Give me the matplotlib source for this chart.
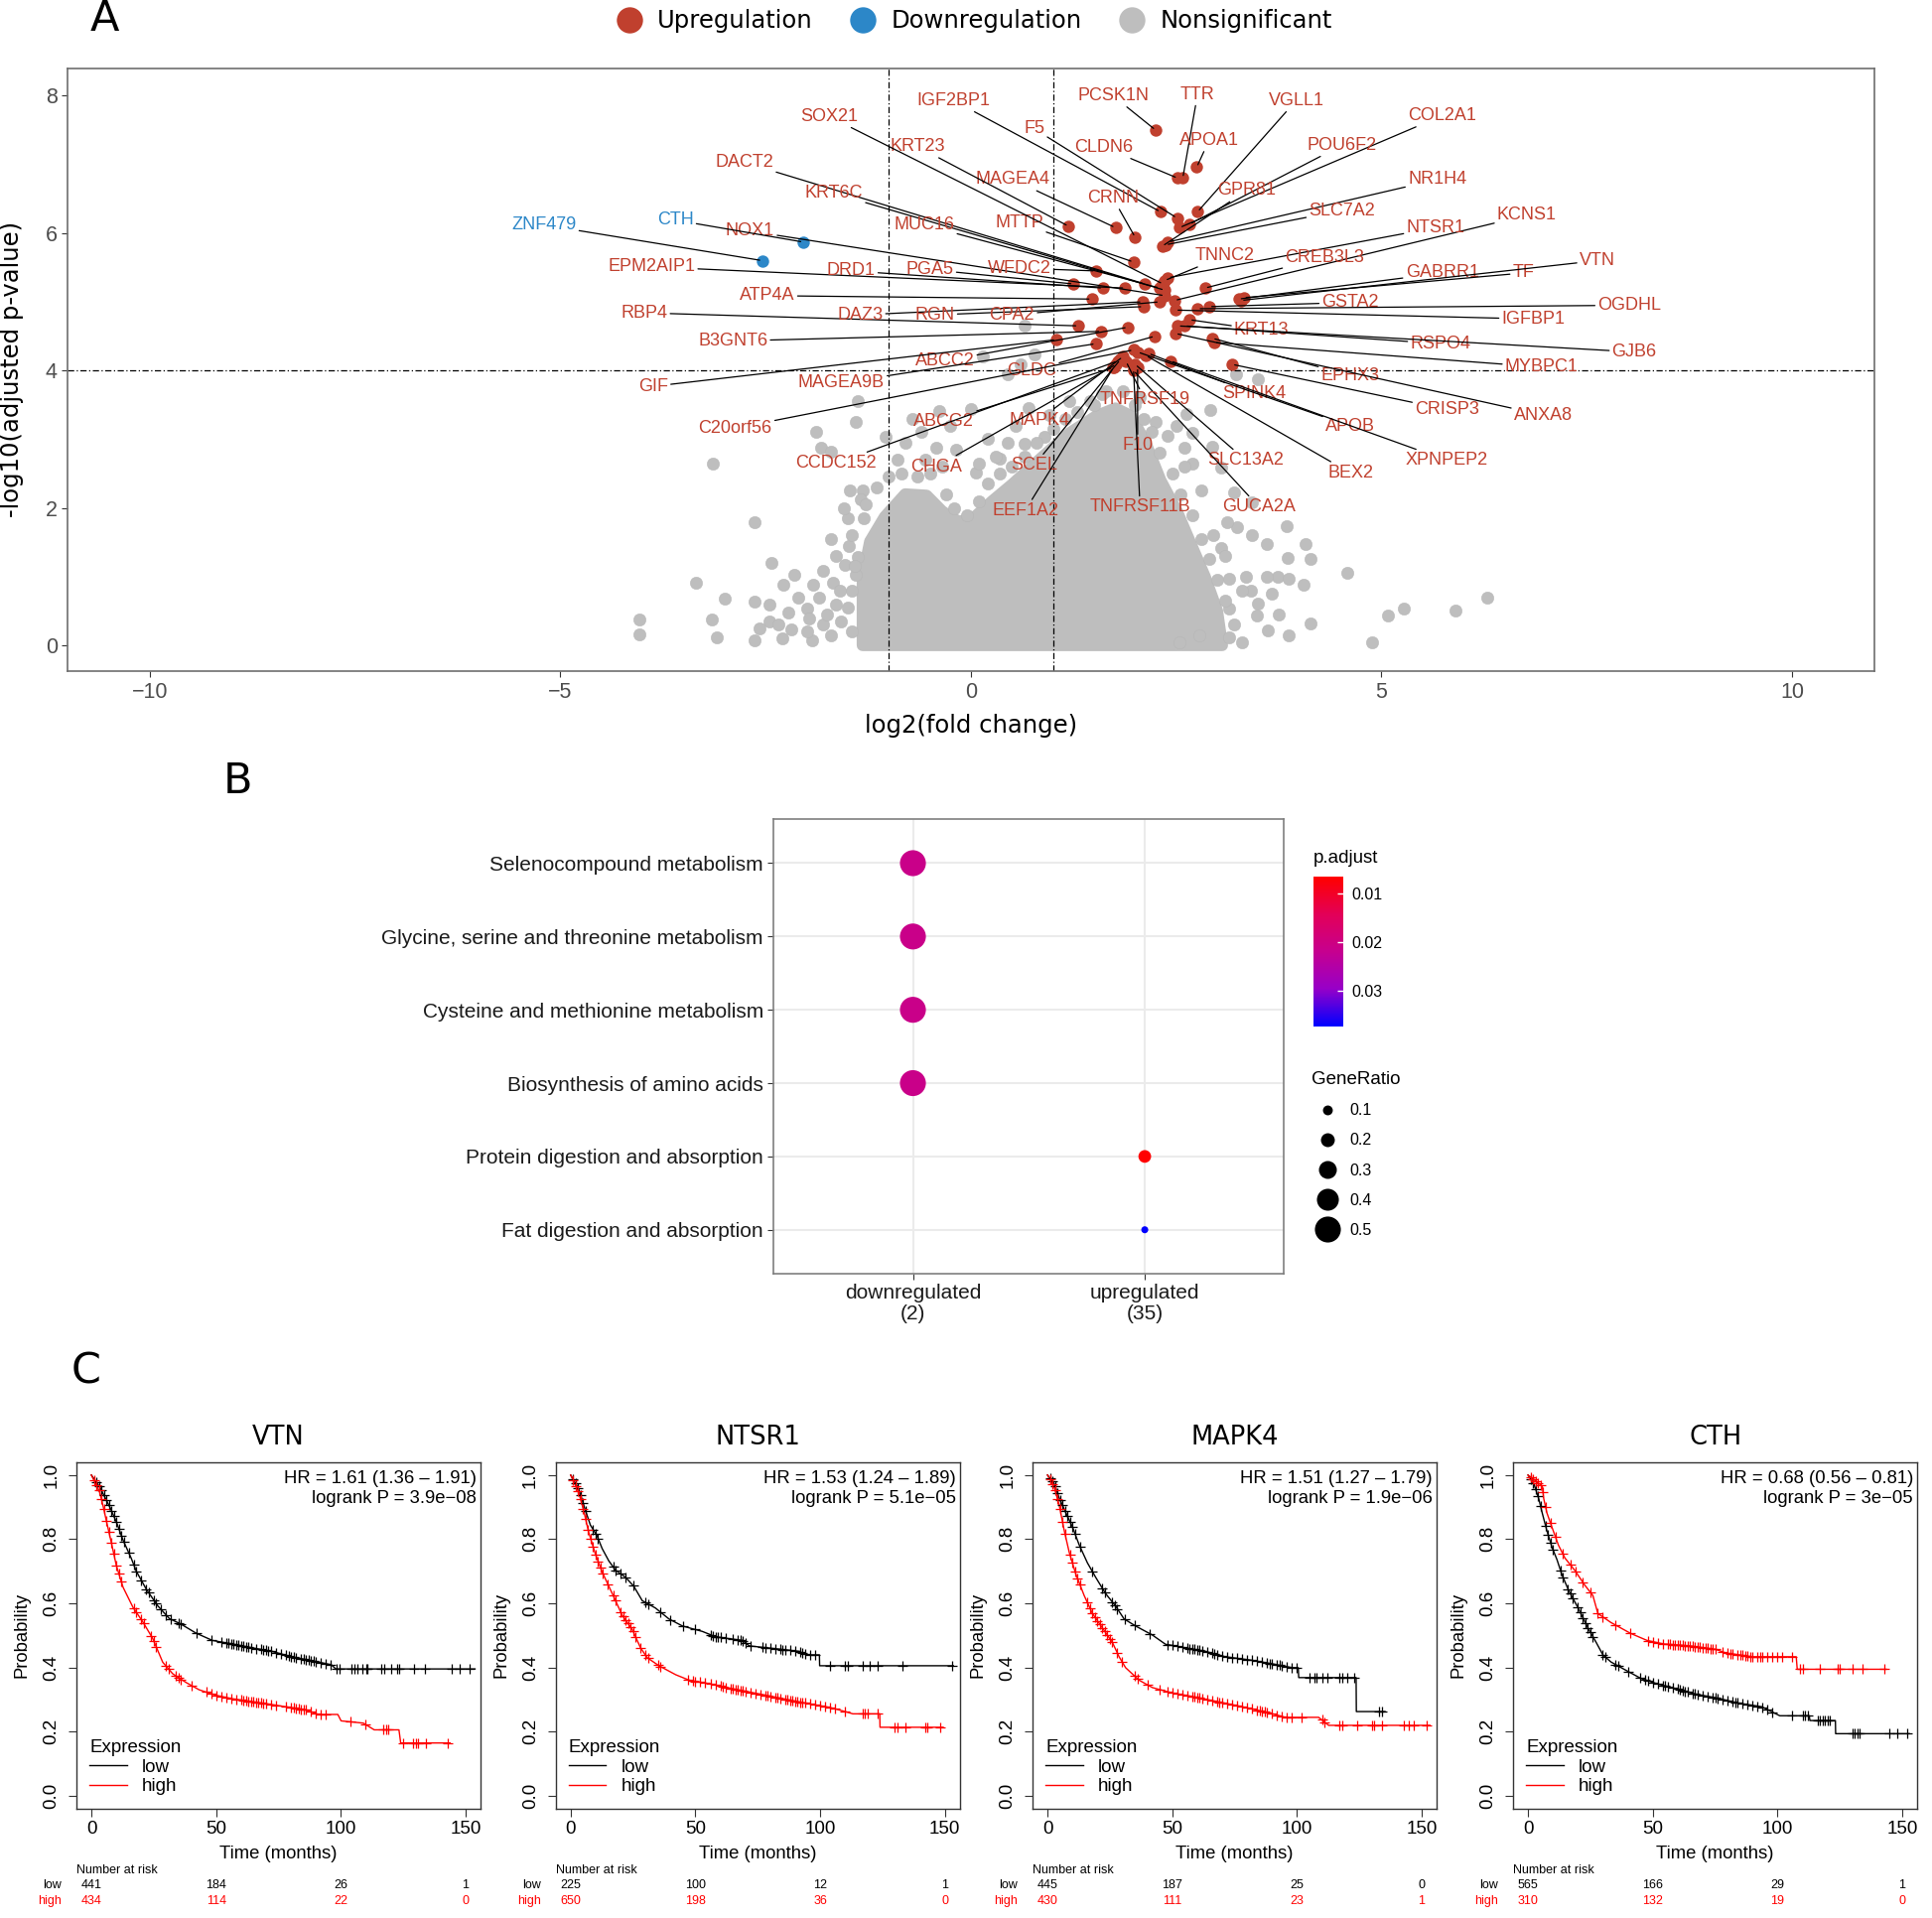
import numpy as np
import matplotlib
matplotlib.use("Agg")
import matplotlib.pyplot as plt
import matplotlib.transforms as mtransforms
from matplotlib.lines import Line2D
from matplotlib.patches import Polygon
from matplotlib.colors import LinearSegmentedColormap, Normalize
from matplotlib.cm import ScalarMappable

plt.rcParams['font.family'] = ['Liberation Sans', 'DejaVu Sans']
DEJAVU = ['DejaVu Sans']

RED = "#C0402E"
BLUE = "#2C87C8"
GREY = "#BEBEBE"

# ---------------- panel A: volcano ----------------
up_genes = ["PCSK1N", "TTR", "CLDN6", "APOA1", "VGLL1", "IGF2BP1", "F5", "COL2A1", "POU6F2",
            "GPR81", "CRNN", "NR1H4", "SLC7A2", "MAGEA4", "KRT23", "MTTP", "SOX21", "DACT2",
            "KRT6C", "MUC16", "NOX1", "KCNS1", "NTSR1", "TNNC2", "CREB3L3", "GABRR1", "TF",
            "VTN", "GSTA2", "OGDHL", "IGFBP1", "EPM2AIP1", "DRD1", "PGA5", "WFDC2", "ATP4A",
            "RBP4", "DAZ3", "RGN", "CPA2", "B3GNT6", "KRT13", "RSPO4", "GJB6", "MYBPC1",
            "EPHX3", "ANXA8", "ABCC2", "GIF", "MAGEA9B", "GLDC", "CRISP3", "SPINK4", "APOB",
            "XPNPEP2", "BEX2", "SLC13A2", "GUCA2A", "TNFRSF19", "F10", "TNFRSF11B", "SCEL",
            "EEF1A2", "MAPK4", "CHGA", "ABCG2", "CCDC152", "C20orf56"]
up_x = [2.25, 2.58, 2.52, 2.75, 2.76, 2.31, 2.51, 2.54, 2.66,
        2.33, 2.00, 2.40, 2.37, 1.76, 1.19, 1.98, 2.34, 2.12,
        2.36, 2.30, 2.36, 2.48, 2.40, 2.36, 2.85, 3.26, 3.32,
        3.29, 2.90, 2.76, 2.49, 1.88, 1.61, 1.25, 1.52, 1.47,
        1.31, 2.09, 2.10, 2.30, 1.59, 2.66, 2.60, 2.52, 2.96,
        2.94, 2.49, 1.91, 1.04, 1.52, 2.24, 3.18, 2.16, 2.03,
        2.43, 2.13, 2.00, 1.98, 1.89, 2.03, 1.98, 1.82,
        1.74, 1.85, 1.77, 1.73, 1.79, 1.98]
up_y = [7.50, 6.80, 6.80, 6.96, 6.31, 6.31, 6.22, 6.08, 6.13,
        5.81, 5.94, 5.87, 5.83, 6.08, 6.10, 5.58, 5.26, 5.26,
        5.17, 5.20, 5.09, 5.02, 5.35, 5.31, 5.20, 5.04, 5.06,
        5.02, 4.93, 4.90, 4.88, 5.20, 5.20, 5.26, 5.45, 5.04,
        4.65, 5.00, 4.93, 5.00, 4.57, 4.74, 4.65, 4.65, 4.41,
        4.47, 4.54, 4.63, 4.45, 4.39, 4.50, 4.09, 4.25, 4.27,
        4.14, 4.22, 4.09, 4.00, 4.13, 4.05, 4.02, 4.16,
        4.05, 4.20, 4.09, 4.04, 4.14, 4.30]
up_label_x = [1.73, 2.76, 1.62, 2.90, 3.96, -0.21, 0.77, 5.74, 4.52,
              3.36, 1.73, 5.68, 4.52, 0.51, -0.65, 0.59, -1.73, -2.76,
              -1.67, -0.57, -2.69, 6.77, 5.66, 3.09, 4.31, 5.74, 6.73,
              7.63, 4.62, 8.02, 6.85, -3.89, -1.46, -0.50, 0.59, -2.48,
              -3.98, -1.35, -0.44, 0.50, -2.90, 3.54, 5.72, 8.08, 6.95,
              4.62, 6.97, -0.32, -3.87, -1.58, 0.74, 5.80, 3.45, 4.62,
              5.80, 4.62, 3.35, 3.51, 2.12, 2.03, 2.06, 0.77,
              0.66, 0.83, -0.42, -0.33, -1.64, -2.87]
up_label_y = [8.00, 8.02, 7.25, 7.35, 7.93, 7.93, 7.52, 7.71, 7.28,
              6.62, 6.51, 6.78, 6.33, 6.78, 7.26, 6.15, 7.70, 7.03,
              6.58, 6.12, 6.03, 6.26, 6.08, 5.67, 5.65, 5.42, 5.42,
              5.60, 4.99, 4.95, 4.75, 5.51, 5.45, 5.47, 5.49, 5.09,
              4.84, 4.81, 4.81, 4.81, 4.43, 4.59, 4.39, 4.27, 4.05,
              3.93, 3.35, 4.14, 3.77, 3.82, 4.00, 3.43, 3.66, 3.19,
              2.69, 2.51, 2.69, 2.01, 3.57, 2.91, 2.01, 2.62,
              1.96, 3.28, 2.60, 3.26, 2.65, 3.16]

down_genes = ["ZNF479", "CTH"]
down_x = [-2.54, -2.04]
down_y = [5.60, 5.87]
down_label_x = [-5.20, -3.60]
down_label_y = [6.12, 6.19]

grey_x = [-1.38, -1.40, -1.89, -1.82, -1.71, -3.14, -1.04, -0.71, -0.39, 0.00,
          -0.42, 0.06, 0.35, 0.65, 0.90, -0.18, -1.47, -1.32, -2.64, -1.34,
          -2.43, -3.35, -3.00, -2.63, -4.04, -3.15, -4.04, -3.09, -2.63, -2.15,
          -2.28, -1.80, -1.68, -1.92, -1.53, -2.10, -2.46, -2.22, -2.00, -2.46,
          -2.57, -2.19, -1.97, -1.80, -1.94, -1.64, -1.58, -1.49, -1.31, -1.50,
          -1.38, -1.40,
          3.50, 3.23, 2.91, 2.63, 2.70, 2.60, 2.94, 2.70, 3.05, 3.21,
          2.81, 3.42, 3.84, 4.08, 4.13, 4.58, 6.29, 5.27, 5.08, 5.90,
          4.89, 3.86, 3.74, 3.87, 4.05, 3.66, 3.41, 4.14, 3.87, 3.62,
          3.15, 3.48, 3.15, 3.35, 3.15, 2.54, 2.78, 3.60, 3.42, 3.24,
          3.05, 3.12,
          0.65, 0.78, 0.60, 0.14, 0.45, 1.65, 2.05, 1.45, 2.25,
          # points ragging the edge of the dense cloud
          -1.45, -1.50, -1.45, -1.42, -1.45, -1.28, -1.15, -1.00, -0.85, -0.65,
          -0.50, -0.30, -0.20, -0.05, 0.10, 0.20, 0.35, 0.50, 0.65, 0.80,
          1.00, 1.15, 1.30, 1.50, 1.60, 1.85, 2.00, 2.10, 2.20, 2.30,
          2.45, 2.55, 2.70, 2.80, 2.90, 3.00, 3.10, 3.20, 3.30, 2.95,
          3.10, 3.30, 3.50, 3.60, 3.75, -1.70, -1.75, -1.85, -1.60, -1.65,
          -1.70, -1.55, -2.30, -2.00, -2.35, -0.55, -0.35, 0.30, -0.90, 1.20,
          0.95, 2.40, 2.60, 2.50, -0.60, -0.25, 0.20, 0.55, 0.70, -0.80,
          0.10, 0.45]
grey_y = [3.55, 3.25, 3.10, 2.87, 2.82, 2.64, 3.03, 3.30, 3.41, 3.44,
          2.87, 2.51, 2.71, 2.94, 3.03, 2.85, 2.26, 2.26, 1.79, 2.12,
          1.20, 0.91, 0.68, 0.63, 0.38, 0.38, 0.16, 0.11, 0.07, 1.02,
          0.88, 1.08, 0.91, 0.88, 1.17, 0.70, 0.59, 0.47, 0.54, 0.34,
          0.25, 0.23, 0.39, 0.30, 0.07, 0.59, 0.34, 1.45, 1.85, 1.85,
          1.29, 1.02,
          3.87, 3.95, 3.43, 3.37, 3.09, 2.87, 2.89, 2.65, 2.58, 2.22,
          2.26, 2.08, 1.74, 1.47, 1.26, 1.06, 0.70, 0.54, 0.43, 0.50,
          0.04, 1.27, 0.99, 0.97, 0.88, 0.75, 0.79, 0.32, 0.14, 0.22,
          0.11, 0.43, 0.54, 0.99, 0.97, 0.05, 0.14, 1.47, 1.61, 1.72,
          1.42, 1.79,
          4.65, 4.23, 4.09, 4.20, 3.95, 3.70, 3.62, 3.55, 3.25,
          0.20, 0.55, 0.80, 1.15, 1.60, 2.05, 2.30, 2.45, 2.50, 2.45,
          2.50, 2.20, 2.00, 1.90, 2.10, 2.35, 2.50, 2.60, 2.75, 2.95,
          3.15, 3.30, 3.40, 3.50, 3.65, 3.70, 3.50, 3.30, 3.10, 2.80,
          2.50, 2.20, 1.90, 1.55, 1.25, 0.95, 0.65, 0.30, 0.05, 1.60,
          1.30, 0.80, 0.60, 1.00, 0.45, 0.15, 0.45, 0.70, 0.80, 1.30,
          1.55, 2.00, 0.10, 0.20, 0.30, 2.70, 2.60, 2.75, 2.70, 3.55,
          3.35, 3.05, 2.60, 3.20, 3.10, 3.20, 3.00, 3.20, 3.45, 2.95,
          2.65, 2.95]

# outline of the dense, fully overlapping part of the grey cloud
cloud_x = [-1.32, -1.32, -1.23, -1.05, -0.80, -0.54, -0.35, -0.15, 0.03, 0.26, 0.51,
           0.86, 1.20, 1.53, 1.76, 1.95, 2.13, 2.31, 2.51, 2.67, 2.85, 3.00, 3.06]
cloud_y = [0.00, 0.97, 1.51, 1.87, 2.20, 2.18, 1.95, 1.80, 1.85, 2.10, 2.35,
           2.73, 3.09, 3.34, 3.45, 3.34, 2.94, 2.40, 1.95, 1.50, 1.00, 0.50, 0.00]

# ---------------- panel B: enrichment ----------------
terms = ["Selenocompound metabolism", "Glycine, serine and threonine metabolism",
         "Cysteine and methionine metabolism", "Biosynthesis of amino acids",
         "Protein digestion and absorption", "Fat digestion and absorption"]
term_group = ["downregulated", "downregulated", "downregulated", "downregulated",
              "upregulated", "upregulated"]
groups = ["downregulated\n(2)", "upregulated\n(35)"]
gene_ratio = [0.5, 0.5, 0.5, 0.5, 0.171, 0.029]
p_adjust = [0.0212, 0.0212, 0.0212, 0.0212, 0.0067, 0.0373]
ratio_breaks = [0.1, 0.2, 0.3, 0.4, 0.5]
padj_breaks = [0.01, 0.02, 0.03]

# ---------------- panel C: Kaplan-Meier ----------------
vtn_low_t = [0, 3.4, 7.4, 10, 12.7, 16, 18, 22, 26.6, 31.3, 35.9, 41.9, 48.5, 56.4, 64.4, 72.3,
             80.3, 89.5, 96.2, 98, 153.8]
vtn_low_s = [1, 0.962, 0.90, 0.854, 0.797, 0.74, 0.70, 0.644, 0.592, 0.552, 0.535, 0.507, 0.484,
             0.473, 0.461, 0.45, 0.433, 0.419, 0.408, 0.395, 0.395]
vtn_low_c = [2, 3, 4, 5, 6, 7, 8, 9, 10, 11, 12, 13, 15, 17, 18, 20, 22, 23, 25, 26, 28, 30, 32,
             35, 36, 42, 48, 52, 54, 55, 56, 57, 58, 59, 60, 61, 62, 63, 64, 66, 68, 69, 70, 71,
             72, 74, 76, 78, 79, 80, 81, 82, 84, 85, 86, 87, 88, 89, 90, 92, 94, 96, 98.1, 99.5,
             104.1, 105.4, 106.8, 108.8, 110.1, 110.7, 116, 117.4, 120, 122.7, 123.3, 129.3,
             133.9, 144.5, 147.8, 151.8]
vtn_high_t = [0, 3.4, 4.8, 6.1, 8.1, 10, 12.7, 16.7, 20.7, 24.6, 28.6, 32.6, 37.9, 43.2, 49.8,
              56.4, 67, 76.3, 85.6, 90.9, 98.8, 100.1, 109, 113.4, 123.3, 124, 143.8]
vtn_high_s = [1, 0.945, 0.90, 0.854, 0.786, 0.718, 0.65, 0.587, 0.541, 0.49, 0.416, 0.38, 0.353,
              0.33, 0.313, 0.302, 0.29, 0.279, 0.268, 0.253, 0.253, 0.233, 0.226, 0.205, 0.205,
              0.164, 0.164]
vtn_high_c = [1, 2, 3, 4, 5, 6, 7, 8, 9, 10, 11, 12, 17, 18, 20, 21, 24, 25, 26, 30, 31, 34, 35,
              36, 40, 46, 48, 50, 52, 54, 56, 58, 60, 61, 62, 63, 64, 65, 66, 67, 68, 69, 70, 72,
              74, 78, 80, 81, 82, 83, 84, 85, 86, 88, 90, 92, 94, 104, 110, 117, 118, 119, 125,
              129, 130, 131, 134, 143]

ntsr1_low_t = [0, 3.2, 5.9, 7.9, 10.6, 12.6, 15.3, 18, 22, 25.3, 28.7, 34, 39.4, 44.8, 52.8,
               58.2, 68.9, 71.6, 91.7, 94.4, 99.7, 99.8, 153.4]
ntsr1_low_s = [1, 0.957, 0.89, 0.844, 0.81, 0.771, 0.732, 0.703, 0.681, 0.653, 0.608, 0.585,
               0.551, 0.529, 0.512, 0.495, 0.484, 0.467, 0.45, 0.439, 0.439, 0.405, 0.405]
ntsr1_low_c = [1, 2, 3, 4, 5, 6, 9, 10, 11, 17, 18, 20, 22, 25, 30, 31, 36, 40, 45, 50, 56, 57,
               58, 59, 60, 62, 65, 67, 68, 69, 70, 72, 77, 78, 80, 82, 84, 85, 86, 88, 90, 92, 93,
               94, 96, 98, 104, 110, 111, 117, 120, 123, 133, 153]
ntsr1_high_t = [0, 3.2, 5.2, 7.2, 9.9, 12.6, 15.3, 18, 20.6, 24.7, 28, 30.7, 35.4, 42.1, 47.5,
                55.5, 66.2, 76.9, 87.7, 95.7, 103.8, 109.1, 113.1, 123.9, 124, 149.3]
ntsr1_high_s = [1, 0.946, 0.89, 0.822, 0.754, 0.698, 0.653, 0.608, 0.563, 0.518, 0.461, 0.43,
                0.405, 0.377, 0.36, 0.349, 0.331, 0.315, 0.298, 0.286, 0.275, 0.264, 0.255,
                0.255, 0.213, 0.213]
ntsr1_high_c = [1, 2, 3, 4, 5, 6, 7, 8, 9, 10, 11, 12, 13, 15, 17, 18, 20, 21, 22, 23, 24, 25,
                26, 28, 30, 31, 35, 36, 47, 49, 50, 52, 54, 56, 58, 60, 61, 62, 64, 65, 66, 67,
                68, 69, 70, 72, 74, 76, 78, 79, 80, 82, 83, 84, 86, 87, 88, 89, 90, 91, 92, 93,
                94, 96, 98, 100, 102, 104, 106, 110, 117, 118, 119, 123, 130, 131, 134, 142, 143,
                148]

mapk4_low_t = [0, 2.7, 4.7, 7.3, 10, 12.7, 16, 19.3, 23.3, 27.3, 30.7, 35.3, 42, 47.3, 55.3,
               63.3, 71.3, 82, 90, 98, 100.5, 100.7, 123.7, 123.8, 135.3]
mapk4_low_s = [1, 0.973, 0.928, 0.883, 0.838, 0.782, 0.726, 0.681, 0.63, 0.591, 0.551, 0.529,
               0.501, 0.472, 0.461, 0.45, 0.433, 0.422, 0.411, 0.399, 0.399, 0.368, 0.368, 0.262,
               0.262]
mapk4_low_c = [1, 2, 3, 4, 5, 6, 7, 8, 9, 10, 11, 13, 18, 22, 23, 26, 27, 28, 31, 35, 41, 48, 50,
               52, 54, 56, 57, 58, 59, 60, 61, 62, 64, 66, 67, 68, 70, 72, 74, 76, 78, 80, 82, 84,
               86, 88, 89, 90, 92, 93, 94, 96, 98, 100, 105, 107, 108, 110, 112, 117, 118, 120,
               123, 133, 134]
mapk4_high_t = [0, 2.7, 4.7, 6.7, 8.7, 11.3, 14.7, 18, 22, 26, 28.7, 31.3, 36.7, 42, 50, 58,
                68.7, 79.3, 88.7, 95.3, 108.7, 112.7, 153.3]
mapk4_high_s = [1, 0.962, 0.906, 0.827, 0.759, 0.692, 0.624, 0.568, 0.523, 0.478, 0.433, 0.399,
                0.36, 0.337, 0.32, 0.309, 0.292, 0.275, 0.258, 0.244, 0.244, 0.219, 0.219]
mapk4_high_c = [1, 2, 3, 4, 5, 6, 7, 9, 10, 11, 12, 13, 16, 17, 18, 19, 20, 21, 22, 23, 24, 25,
                26, 28, 30, 35, 36, 40, 45, 48, 50, 52, 54, 56, 58, 59, 60, 61, 62, 64, 66, 68,
                69, 70, 72, 74, 76, 78, 80, 82, 84, 85, 86, 87, 88, 90, 92, 94, 96, 98, 102, 110,
                111, 117, 118, 124, 130, 131, 134, 143, 145, 147, 152]

cth_low_t = [0, 2.4, 4.3, 5.7, 7.6, 9.6, 11.6, 13.5, 16.2, 20.1, 24, 27.3, 30, 33.2, 38.5, 45.1,
             51.6, 59.5, 67.4, 75.3, 84.5, 93.7, 100.9, 112.7, 113, 123.2, 123.3, 152.8]
cth_low_s = [1, 0.971, 0.926, 0.881, 0.825, 0.775, 0.736, 0.691, 0.641, 0.585, 0.523, 0.478,
             0.439, 0.417, 0.394, 0.366, 0.349, 0.333, 0.316, 0.305, 0.288, 0.277, 0.249, 0.249,
             0.234, 0.234, 0.193, 0.193]
cth_low_c = [1, 2, 3, 4, 5, 7, 8, 9, 10, 13, 14, 16, 17, 18, 20, 21, 22, 23, 24, 25, 26, 30, 31,
             35, 36, 40, 45, 47, 48, 50, 52, 54, 55, 56, 58, 60, 61, 62, 63, 64, 66, 67, 68, 70,
             72, 74, 75, 76, 78, 80, 82, 83, 84, 86, 88, 90, 92, 94, 96, 98, 106, 110, 111, 112,
             116, 117, 118, 119, 120, 121, 130, 131, 132, 133, 145, 148, 152]
cth_high_t = [0, 3, 5.7, 6.3, 7.6, 9.6, 12.2, 14.8, 18.8, 22.7, 26, 28, 33.2, 41.1, 47.7, 54.3,
              64.8, 75.3, 79.2, 89.8, 107.5, 107.9, 143.6]
cth_high_s = [1, 0.982, 0.965, 0.926, 0.881, 0.837, 0.781, 0.741, 0.702, 0.657, 0.624, 0.568,
              0.54, 0.506, 0.484, 0.473, 0.467, 0.456, 0.445, 0.433, 0.433, 0.394, 0.394]
cth_high_c = [1, 2, 3, 4, 5, 6, 7, 9, 11, 14, 17, 19, 22, 25, 28, 30, 35, 41, 48, 50, 52, 54,
              56, 57, 58, 59, 60, 61, 62, 63, 64, 65, 66, 67, 68, 69, 70, 71, 72, 73, 74, 75,
              78, 80, 81, 82, 84, 85, 86, 87, 88, 89, 90, 92, 93, 94, 96, 98, 100, 102, 106,
              109, 110, 117, 124, 125, 130, 134, 143]

km_genes = ["VTN", "NTSR1", "MAPK4", "CTH"]
km_hr = ["HR = 1.61 (1.36 \u2013 1.91)", "HR = 1.53 (1.24 \u2013 1.89)",
         "HR = 1.51 (1.27 \u2013 1.79)", "HR = 0.68 (0.56 \u2013 0.81)"]
km_p = ["logrank P = 3.9e\u221208", "logrank P = 5.1e\u221205",
        "logrank P = 1.9e\u221206", "logrank P = 3e\u221205"]
risk_times = [0, 50, 100, 150]
risk_low = [[441, 184, 26, 1], [225, 100, 12, 1], [445, 187, 25, 0], [565, 166, 29, 1]]
risk_high = [[434, 114, 22, 0], [650, 198, 36, 0], [430, 111, 23, 1], [310, 132, 19, 0]]

km_curves = [
    (vtn_low_t, vtn_low_s, vtn_low_c, vtn_high_t, vtn_high_s, vtn_high_c),
    (ntsr1_low_t, ntsr1_low_s, ntsr1_low_c, ntsr1_high_t, ntsr1_high_s, ntsr1_high_c),
    (mapk4_low_t, mapk4_low_s, mapk4_low_c, mapk4_high_t, mapk4_high_s, mapk4_high_c),
    (cth_low_t, cth_low_s, cth_low_c, cth_high_t, cth_high_s, cth_high_c),
]

# ---------------- layout helper (reference layout, 1568 x 1557 grid) ----------------
W, H = 1568.0, 1557.0


def box(l, t, r, b):
    return [l / W, 1 - b / H, (r - l) / W, (b - t) / H]


fig = plt.figure(figsize=(19.46, 19.32), dpi=100)

# ================= A =================
fig.text(85 / W, 1 - 15 / H, "A", fontsize=31, family=DEJAVU, ha="center", va="center")
axA = fig.add_axes(box(55, 56, 1521, 545))
axA.add_patch(Polygon(np.column_stack([cloud_x, cloud_y]), closed=True, facecolor=GREY,
                      edgecolor=GREY, lw=8.5, joinstyle="round", zorder=1))
axA.scatter(grey_x, grey_y, s=80, c=GREY, lw=0.3, edgecolors="#B4B4B4", zorder=1.5)
dash = (0, (5, 2, 1, 2))
axA.axvline(-1, color="black", lw=0.9, ls=dash, zorder=2)
axA.axvline(1, color="black", lw=0.9, ls=dash, zorder=2)
axA.axhline(4, color="black", lw=0.9, ls=dash, zorder=2)
axA.scatter(up_x, up_y, s=80, c=RED, lw=0, zorder=3)
axA.scatter(down_x, down_y, s=80, c=BLUE, lw=0, zorder=3)

arrow = dict(arrowstyle="-", color="black", lw=0.9, shrinkA=0, shrinkB=2)
for g, px, py, lx, ly in zip(up_genes, up_x, up_y, up_label_x, up_label_y):
    axA.annotate(g, xy=(px, py), xytext=(lx, ly), color=RED, fontsize=13, ha="center",
                 va="center", arrowprops=arrow, zorder=4, annotation_clip=False)
for g, px, py, lx, ly in zip(down_genes, down_x, down_y, down_label_x, down_label_y):
    axA.annotate(g, xy=(px, py), xytext=(lx, ly), color=BLUE, fontsize=13, ha="center",
                 va="center", arrowprops=arrow, zorder=4, annotation_clip=False)

axA.set_xlim(-11, 11)
axA.set_ylim(-0.38, 8.39)
axA.set_xticks([-10, -5, 0, 5, 10])
axA.set_yticks([0, 2, 4, 6, 8])
axA.tick_params(labelsize=15.5, labelcolor="#4D4D4D", color="#333333", length=4)
for sp in axA.spines.values():
    sp.set_color("#6E6E6E")
    sp.set_linewidth(1.2)
fig.text(788 / W, 1 - 589 / H, "log2(fold change)", fontsize=17.5, family=DEJAVU,
         ha="center", va="center")
fig.text(10 / W, 1 - 300 / H, "-log10(adjusted p-value)", fontsize=17.5, family=DEJAVU,
         ha="center", va="center", rotation=90)

leg_handles = [Line2D([], [], ls="", marker="o", ms=19, color=c, mew=0) for c in (RED, BLUE, GREY)]
fig.legend(leg_handles, ["Upregulation", "Downregulation", "Nonsignificant"], loc="center",
           bbox_to_anchor=(786 / W, 1 - 17 / H), ncol=3, frameon=False,
           prop={"family": DEJAVU, "size": 17.5}, handlelength=2.0, handletextpad=0.15,
           columnspacing=1.1)

# ================= B =================
fig.text(193 / W, 1 - 634 / H, "B", fontsize=31, family=DEJAVU, ha="center", va="center")
axB = fig.add_axes(box(628, 665, 1042, 1034))
cmap = LinearSegmentedColormap.from_list(
    "padj", ["#FF0000", "#E30058", "#C6008F", "#9700C8", "#0000FF"])
norm = Normalize(vmin=0.0067, vmax=0.0373)
bx = [1 if g == "downregulated" else 2 for g in term_group]
by = [len(terms) - i for i in range(len(terms))]
diam = [4.2 + 29.25 * r for r in gene_ratio]
axB.scatter(bx, by, s=[d ** 2 for d in diam], c=p_adjust, cmap=cmap, norm=norm, lw=0, zorder=3)
axB.set_xlim(0.4, 2.6)
axB.set_ylim(0.4, 6.6)
axB.set_xticks([1, 2])
axB.set_xticklabels(groups, fontsize=15, color="#1A1A1A", linespacing=1.1)
axB.set_yticks(by)
axB.set_yticklabels(terms, fontsize=15, color="#1A1A1A")
axB.tick_params(length=4, color="#333333")
axB.grid(True, color="#EBEBEB", lw=1.5)
axB.set_axisbelow(True)
for sp in axB.spines.values():
    sp.set_color("#7F7F7F")
    sp.set_linewidth(1.2)

cax = fig.add_axes(box(1066, 712, 1090, 833))
cb = fig.colorbar(ScalarMappable(norm=norm, cmap=cmap), cax=cax)
cb.set_ticks(padj_breaks)
cb.set_ticklabels(["0.01", "0.02", "0.03"])
cax.invert_yaxis()
cb.outline.set_visible(False)
cax.tick_params(length=4, width=1, color="white", direction="in", labelsize=11.5, pad=6)
fig.text(1066 / W, 1 - 697 / H, "p.adjust", fontsize=13.5, ha="left", va="center")

size_handles = [Line2D([], [], ls="", marker="o", color="black", mew=0, ms=4.2 + 29.25 * r)
                for r in ratio_breaks]
fig.legend(size_handles, [str(r) for r in ratio_breaks], title="GeneRatio", loc="upper left",
           bbox_to_anchor=(1053 / W, 1 - 858 / H), frameon=False, fontsize=11.5,
           title_fontsize=13.5, labelspacing=0.95, handletextpad=0.4, alignment="left")

# ================= C =================
fig.text(70 / W, 1 - 1113 / H, "C", fontsize=31, family=DEJAVU, ha="center", va="center")
km_lefts = [62, 451, 838, 1228]
for i, gene in enumerate(km_genes):
    lt, ls_, lc, ht, hs, hc = km_curves[i]
    ax = fig.add_axes(box(km_lefts[i], 1187, km_lefts[i] + 328, 1468))
    ax.plot(lt, ls_, color="black", lw=1)
    ax.plot(ht, hs, color="red", lw=1)
    ax.plot(lc, np.interp(lc, lt, ls_), ls="", marker="+", ms=7.5, mew=0.9, color="black")
    ax.plot(hc, np.interp(hc, ht, hs), ls="", marker="+", ms=7.5, mew=0.9, color="red")
    ax.set_xlim(-6, 156)
    ax.set_ylim(-0.04, 1.04)
    ax.set_xticks(risk_times)
    ax.set_yticks([0, 0.2, 0.4, 0.6, 0.8, 1.0])
    ax.set_yticklabels(["0.0", "0.2", "0.4", "0.6", "0.8", "1.0"], rotation=90, va="center")
    ax.tick_params(axis="both", length=6, labelsize=13.5, color="#333333")
    ax.tick_params(axis="y", pad=6)
    ax.tick_params(axis="x", pad=3)
    for sp in ax.spines.values():
        sp.set_color("#333333")
        sp.set_linewidth(1.0)
    ax.set_title(gene, fontsize=18.5, family=DEJAVU, pad=13)
    ax.text(0.99, 0.978, km_hr[i] + "\n" + km_p[i], transform=ax.transAxes, ha="right",
            va="top", fontsize=13.3, linespacing=1.3)
    ax.text(0.5, -0.132, "Time (months)", transform=ax.transAxes, ha="center", va="center",
            fontsize=13.3)
    ax.text(-0.134, 0.5, "Probability", transform=ax.transAxes, ha="center", va="center",
            rotation=90, fontsize=13.3)
    ax.legend([Line2D([], [], color="black", lw=1), Line2D([], [], color="red", lw=1)],
              ["low", "high"], title="Expression", loc="lower left", frameon=False,
              fontsize=13.5, title_fontsize=13.5, alignment="left", handlelength=2.0,
              handletextpad=0.8, labelspacing=0.15, borderaxespad=0.3,
              bbox_to_anchor=(0.0, 0.0))
    trans = mtransforms.blended_transform_factory(ax.transData, ax.transAxes)
    ax.text(-6, -0.178, "Number at risk", transform=trans, ha="left", va="center", fontsize=9)
    ax.text(-12, -0.221, "low", transform=trans, ha="right", va="center", fontsize=9)
    ax.text(-12, -0.267, "high", transform=trans, ha="right", va="center", fontsize=9,
            color="red")
    for t, nl, nh in zip(risk_times, risk_low[i], risk_high[i]):
        ax.text(t, -0.221, str(nl), transform=trans, ha="center", va="center", fontsize=9)
        ax.text(t, -0.267, str(nh), transform=trans, ha="center", va="center", fontsize=9,
                color="red")

fig.savefig("out.png", dpi=100)
